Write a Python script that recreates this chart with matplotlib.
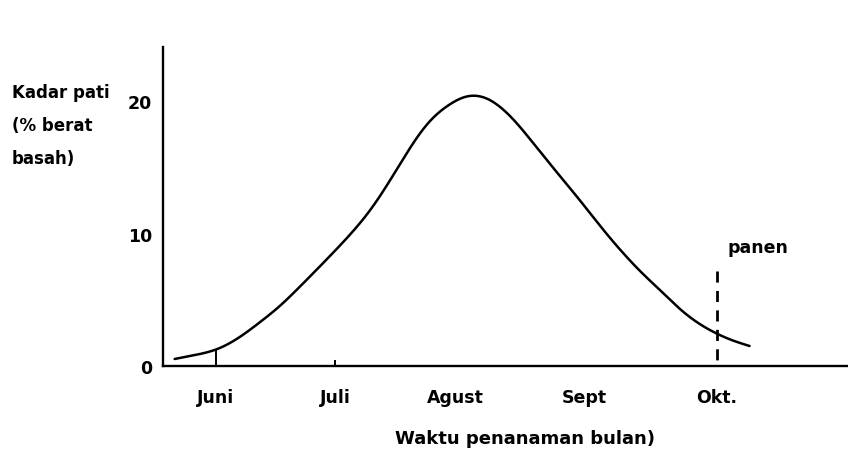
import numpy as np
import matplotlib
matplotlib.use("Agg")
import matplotlib.pyplot as plt

# Data (x in months, Juni = 0)
curve_x = [-0.33, 0.0, 0.17, 0.35, 0.51, 0.65, 0.91, 1.07, 1.23, 1.39, 1.55, 1.71, 1.87, 2.03, 2.13,
           2.27, 2.37, 2.51, 2.67, 2.83, 2.99, 3.15, 3.31, 3.39, 3.55, 3.70, 3.86, 4.0, 4.13, 4.26]
curve_y = [0.53, 1.2, 2.04, 3.3, 4.5, 5.8, 8.3, 9.9, 11.7, 14.0, 16.5, 18.6, 19.8, 20.5, 20.4,
           19.6, 18.7, 17.1, 15.2, 13.4, 11.5, 9.6, 7.9, 7.1, 5.7, 4.3, 3.15, 2.42, 1.89, 1.51]
month_labels = ["Juni", "Juli", "Agust", "Sept", "Okt."]
month_pos = [0.0, 0.95, 1.91, 2.94, 4.0]
ytick_vals = [0, 10, 20]
ytick_labels = ["0", "10", "20"]
harvest_x = 4.0
harvest_top = 7.2
juni_level = 1.2


def pchip(x, y, n=800):
    x = np.asarray(x, float); y = np.asarray(y, float)
    h = np.diff(x); d = np.diff(y) / h
    m = np.zeros_like(y)
    for k in range(1, len(x) - 1):
        if d[k - 1] * d[k] <= 0:
            m[k] = 0
        else:
            w1 = 2 * h[k] + h[k - 1]; w2 = h[k] + 2 * h[k - 1]
            m[k] = (w1 + w2) / (w1 / d[k - 1] + w2 / d[k])
    m[0] = d[0]; m[-1] = d[-1]
    xs = np.linspace(x[0], x[-1], n)
    idx = np.clip(np.searchsorted(x, xs) - 1, 0, len(x) - 2)
    t = (xs - x[idx]) / h[idx]
    h00 = 2 * t**3 - 3 * t**2 + 1; h10 = t**3 - 2 * t**2 + t
    h01 = -2 * t**3 + 3 * t**2; h11 = t**3 - t**2
    ys = h00 * y[idx] + h10 * h[idx] * m[idx] + h01 * y[idx + 1] + h11 * h[idx] * m[idx + 1]
    return xs, ys


def smooth(xs, ys, sigma=0.07):
    dx = xs[1] - xs[0]
    r = int(4 * sigma / dx)
    k = np.exp(-0.5 * (np.arange(-r, r + 1) * dx / sigma) ** 2)
    k /= k.sum()
    left = ys[0] + (ys[0] - ys[1:r + 1])[::-1]
    right = ys[-1] + (ys[-1] - ys[-r - 1:-1])[::-1]
    yp = np.concatenate([left, ys, right])
    return np.convolve(yp, k, mode="valid")


W, H = 848, 452
fig = plt.figure(figsize=(W / 100, H / 100), dpi=100)
ax = fig.add_axes([163 / W, 85 / H, 1 - 163 / W, (367 - 48) / H])
ax.set_xlim(-0.423, 5.046)
ax.set_ylim(0, 24.08)

font = "DejaVu Sans"

sx, sy = pchip(curve_x, curve_y)
sy = smooth(sx, sy)
ax.plot(sx, sy, color="black", lw=1.8, solid_capstyle="round")

# Juni marker line and Juli small tick
ax.plot([month_pos[0], month_pos[0]], [0, juni_level], color="black", lw=1.4)
ax.plot([month_pos[1], month_pos[1]], [0, 0.35], color="black", lw=1.4)
# harvest dashed line (drawn top-down so the pattern starts with a dash)
ax.plot([harvest_x, harvest_x], [harvest_top, 0], color="black", lw=2.0, ls=(0, (4, 3)))
ax.text(4.08, 9.0, "panen", fontsize=12.5, family=font, weight="bold", ha="left", va="center")

for s in ["top", "right"]:
    ax.spines[s].set_visible(False)
for s in ["left", "bottom"]:
    ax.spines[s].set_linewidth(1.7)

ax.set_xticks(month_pos)
ax.set_xticklabels(month_labels, fontsize=12.5, family=font, weight="bold")
ax.set_yticks(ytick_vals)
ax.set_yticklabels(ytick_labels, fontsize=12.5, family=font, weight="bold")
ax.tick_params(axis="both", length=0)
ax.tick_params(axis="x", pad=16)
ax.tick_params(axis="y", pad=8)

fig.text(12 / W, 1 - 93 / H, "Kadar pati", fontsize=12, family=font, weight="bold", ha="left", va="center")
fig.text(12 / W, 1 - 126 / H, "(% berat", fontsize=12, family=font, weight="bold", ha="left", va="center")
fig.text(12 / W, 1 - 159 / H, "basah)", fontsize=12, family=font, weight="bold", ha="left", va="center")
fig.text(525 / W, 1 - 439 / H, "Waktu penanaman bulan)", fontsize=13, family=font, weight="bold", ha="center", va="center")

fig.savefig("out.png", dpi=100, facecolor="white")
